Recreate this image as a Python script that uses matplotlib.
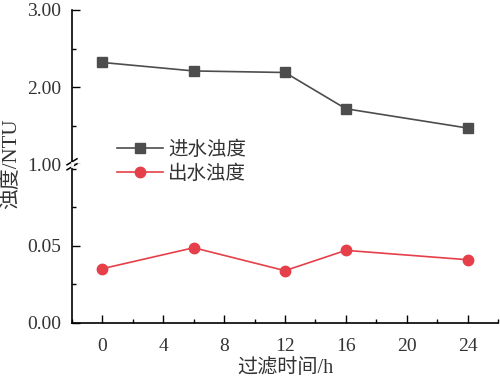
import matplotlib
matplotlib.use("Agg")
import matplotlib.pyplot as plt
from matplotlib.lines import Line2D
from matplotlib.ticker import MultipleLocator

hours = [0, 6, 12, 16, 24]
inflow = [2.32, 2.21, 2.19, 1.72, 1.47]
outflow = [0.0351, 0.0487, 0.0338, 0.0470, 0.0409]
top_ticks = [1.00, 2.00, 3.00]
bottom_ticks = [0.00, 0.05]
x_ticks = [0, 4, 8, 12, 16, 20, 24]

fam = ['Liberation Serif', 'Noto Sans CJK SC']
plt.rcParams['font.family'] = fam
plt.rcParams['font.size'] = 14

W, H = 500, 383
fig = plt.figure(figsize=(W / 100, H / 100), dpi=100)

def rect(x0, y_top, x1, y_bot):
    return [x0 / W, 1 - y_bot / H, (x1 - x0) / W, (y_bot - y_top) / H]

ax_top = fig.add_axes(rect(72, 10, 498, 164.3))
ax_bot = fig.add_axes(rect(72, 164.3, 498, 322.7))

gray = '#4d4d4d'
red = '#e5404a'
txt = '#333333'

ax_top.plot(hours, inflow, color=gray, lw=1.2, marker='s', ms=6.5,
            mfc=gray, mec=gray, label='进水浊度')
ax_bot.plot(hours, outflow, color=red, lw=1.2, marker='o', ms=7.5,
            mfc=red, mec=red, label='出水浊度')

ax_top.set_ylim(1.0, 3.0)
ax_bot.set_ylim(0.0, 0.1029)
for ax in (ax_top, ax_bot):
    ax.set_xlim(-2, 26)
    ax.spines['top'].set_visible(False)
    ax.spines['right'].set_visible(False)
    ax.tick_params(direction='in', length=6, width=1, labelsize=14, labelcolor=txt)
    ax.tick_params(axis='y', pad=8)
    ax.tick_params(which='minor', direction='in', length=3, width=1)
    ax.spines['left'].set_linewidth(1.2)
    ax.spines['bottom'].set_linewidth(1.2)

ax_top.spines['bottom'].set_visible(False)
ax_top.tick_params(axis='x', which='both', bottom=False, labelbottom=False)
ax_top.set_yticks(top_ticks)
ax_top.set_yticklabels([f'{v:.2f}' for v in top_ticks])
ax_top.yaxis.set_minor_locator(MultipleLocator(0.5))

ax_bot.set_yticks(bottom_ticks)
ax_bot.set_yticklabels([f'{v:.2f}' for v in bottom_ticks])
ax_bot.yaxis.set_minor_locator(MultipleLocator(0.025))
ax_bot.set_xticks(x_ticks)
ax_bot.set_xticklabels([str(v) for v in x_ticks])
ax_bot.xaxis.set_minor_locator(MultipleLocator(2))
ax_bot.tick_params(axis='x', pad=11)
ax_bot.set_xlabel('过滤时间/h', fontsize=14.5, labelpad=3, color=txt)

fig.text(11 / W, 1 - 164 / H, '浊度/NTU', rotation=90, ha='center', va='center',
         fontsize=15, color=txt)

# axis break marks
for dy in (-2.5, 2.5):
    y0 = 1 - (164.3 + dy + 3) / H
    y1 = 1 - (164.3 + dy - 3) / H
    fig.add_artist(Line2D([67 / W, 77 / W], [y0, y1], color='black', lw=1.1))
fig.add_artist(Line2D([72 / W, 72 / W], [1 - 163 / H, 1 - 165.6 / H], color='white', lw=2))

handles = [ax_top.get_lines()[0], ax_bot.get_lines()[0]]
leg = fig.legend(handles, [h.get_label() for h in handles], loc='upper left',
                 bbox_to_anchor=(99 / W, 1 - 123 / H), frameon=False,
                 handlelength=2.4, labelspacing=0.3, fontsize=14, handletextpad=0.25)
for t in leg.get_texts():
    t.set_color(txt)

fig.savefig('out.png', dpi=100)
